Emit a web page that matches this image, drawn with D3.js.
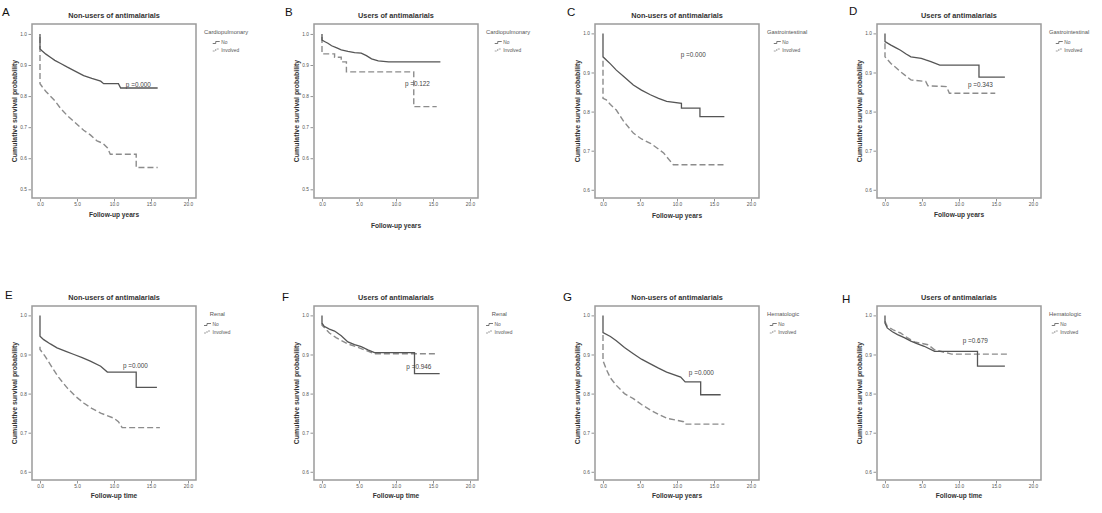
<!DOCTYPE html>
<html>
<head>
<meta charset="utf-8">
<script src="https://cdn.jsdelivr.net/npm/d3@7"></script>
<style>
  body { margin: 0; background: #fff; }
  svg text { font-family: "Liberation Sans", Arial, sans-serif; }
</style>
</head>
<body>
<div id="graph"></div>
<script>
// ---- data ----
var LETTERS = ["A", "B", "C", "D", "E", "F", "G", "H"];
var TITLES = ["Non-users of antimalarials", "Users of antimalarials",
              "Non-users of antimalarials", "Users of antimalarials",
              "Non-users of antimalarials", "Users of antimalarials",
              "Non-users of antimalarials", "Users of antimalarials"];
var GROUPS = ["Cardiopulmonary", "Cardiopulmonary", "Gastrointestinal", "Gastrointestinal",
              "Renal", "Renal", "Hematologic", "Hematologic"];
var X_TITLES = ["Follow-up years", "Follow-up years", "Follow-up years", "Follow-up years",
                "Follow-up time", "Follow-up time", "Follow-up years", "Follow-up time"];
var LEGEND_ITEMS = ["No", "Involved"];
var P_TEXTS = ["p =0.000", "p =0.122", "p =0.000", "p =0.343",
               "p =0.000", "p =0.946", "p =0.000", "p =0.679"];
// where the p label sits, in [years, survival]
var P_ANCHORS = [[11.6, 0.83], [11.2, 0.832], [10.5, 0.939], [11.2, 0.862],
                 [11.2, 0.865], [11.4, 0.862], [11.6, 0.848], [10.5, 0.929]];

var X_TICKS = [0, 5, 10, 15, 20];
var Y_TICKS_WIDE = [0.5, 0.6, 0.7, 0.8, 0.9, 1.0];   // panels A, B
var Y_TICKS_NARROW = [0.6, 0.7, 0.8, 0.9, 1.0];       // panels C-H

// Kaplan-Meier curves traced as [years, survival]; flat runs and drops are given explicitly
var NO_A = [[0,1],[0,0.952],[0.3,0.945],[0.8,0.935],[1.4,0.925],[2.0,0.915],[2.8,0.905],[3.7,0.893],
            [4.6,0.882],[5.9,0.866],[7.0,0.857],[8.2,0.848],[8.6,0.840],[10.6,0.840],[10.9,0.826],[15.9,0.826]];
var INV_A = [[0,0.99],[0,0.84],[0.3,0.83],[0.8,0.815],[1.4,0.80],[2.0,0.785],[2.8,0.76],[3.7,0.737],
             [4.6,0.718],[5.9,0.69],[6.8,0.675],[7.7,0.656],[8.5,0.648],[9.1,0.634],[9.5,0.613],
             [13.0,0.613],[13.0,0.57],[15.9,0.57]];
var NO_B = [[0,1],[0,0.98],[0.4,0.975],[0.8,0.97],[1.3,0.962],[2.0,0.955],[2.6,0.949],[3.5,0.944],
            [4.4,0.94],[5.3,0.938],[6.0,0.93],[6.7,0.92],[7.6,0.913],[9.0,0.91],[16.0,0.91]];
var INV_B = [[0,0.99],[0,0.936],[1.7,0.936],[1.7,0.925],[2.6,0.925],[2.6,0.91],[3.3,0.91],[3.3,0.878],
             [12.4,0.878],[12.4,0.766],[15.5,0.766]];
var NO_C = [[0,1],[0,0.94],[0.45,0.932],[1.0,0.922],[1.8,0.906],[2.8,0.89],[4.1,0.868],[5.2,0.855],
            [6.4,0.843],[7.5,0.834],[8.6,0.826],[10.6,0.821],[10.6,0.809],[13.1,0.809],[13.1,0.787],[16.4,0.787]];
var INV_C = [[0,0.93],[0,0.834],[0.45,0.83],[1.0,0.818],[1.8,0.804],[2.8,0.775],[4.1,0.745],[5.2,0.73],
             [6.4,0.719],[7.3,0.707],[8.2,0.694],[9.5,0.664],[16.4,0.664]];
var NO_D = [[0,1],[0,0.979],[0.8,0.97],[1.5,0.963],[2.1,0.957],[2.8,0.948],[3.5,0.94],[4.9,0.936],
            [5.5,0.932],[6.2,0.928],[7.4,0.919],[12.7,0.919],[12.7,0.888],[16.2,0.888]];
var INV_D = [[0,0.975],[0,0.94],[0.8,0.923],[1.5,0.912],[2.1,0.902],[3.5,0.881],[5.5,0.877],
             [5.8,0.866],[8.3,0.864],[8.7,0.847],[14.9,0.847]];
var NO_E = [[0,1],[0,0.947],[0.5,0.938],[1.4,0.927],[2.3,0.917],[3.5,0.908],[4.6,0.9],[5.7,0.892],
            [6.8,0.883],[8.2,0.87],[9.1,0.855],[13.0,0.855],[13.0,0.816],[15.8,0.816]];
var INV_E = [[0,0.92],[0,0.913],[0.7,0.895],[1.4,0.874],[2.5,0.842],[3.7,0.814],[4.8,0.793],
             [5.9,0.776],[7.0,0.762],[8.2,0.75],[10.0,0.737],[10.6,0.728],[11.1,0.713],[16.2,0.713]];
var NO_F = [[0,1],[0,0.98],[0.3,0.972],[1.0,0.965],[1.7,0.96],[2.6,0.948],[3.5,0.932],[4.4,0.925],
            [5.3,0.92],[6.2,0.912],[7.1,0.905],[12.5,0.905],[12.5,0.851],[15.9,0.851]];
var INV_F = [[0,0.98],[0,0.975],[1.0,0.955],[1.9,0.943],[2.7,0.935],[3.5,0.927],[4.6,0.92],
             [5.7,0.912],[7.1,0.902],[15.6,0.902]];
var NO_G = [[0,1],[0,0.956],[1.0,0.946],[1.8,0.935],[2.9,0.918],[4.1,0.902],[5.2,0.888],[6.4,0.876],
            [7.5,0.865],[8.6,0.855],[10.5,0.842],[11.1,0.83],[13.2,0.83],[13.2,0.797],[15.9,0.797]];
var INV_G = [[0,0.95],[0,0.884],[0.5,0.86],[1.0,0.84],[1.8,0.821],[2.9,0.8],[4.1,0.787],[5.2,0.772],
             [6.4,0.758],[7.5,0.747],[8.6,0.737],[10.9,0.728],[11.1,0.722],[16.4,0.722]];
var NO_H = [[0,1],[0,0.98],[0.3,0.968],[1.0,0.958],[1.7,0.951],[2.6,0.943],[3.5,0.934],[4.4,0.927],
            [5.3,0.921],[6.7,0.908],[12.5,0.908],[12.5,0.87],[16.2,0.87]];
var INV_H = [[0,0.985],[0.3,0.972],[1.2,0.962],[2.1,0.955],[3.0,0.943],[4.0,0.932],[5.8,0.925],
             [6.7,0.912],[9.0,0.901],[16.7,0.901]];

var NO_CURVES = [NO_A, NO_B, NO_C, NO_D, NO_E, NO_F, NO_G, NO_H];
var INV_CURVES = [INV_A, INV_B, INV_C, INV_D, INV_E, INV_F, INV_G, INV_H];

// ---- layout ----
var PLOT_W = 164;
var PLOT_H = 174;
var COL_X = [32, 314, 595, 877];
var ROW_Y = [24, 306];
var LETTER_POS = [[2,16],[285,16],[567,16],[849,15],[5,299],[282,301],[563,301],[842,303]];
var X_TITLE_DROP = [19, 30, 20, 19, 18, 18, 18, 18];

var svg = d3.select("#graph")
            .append("svg")
              .attr("width", 1102)
              .attr("height", 513);

for (let i = 0; i < 8; i++) {
  draw_panel(i);
}

function draw_panel(i) {
  let left = COL_X[i % 4];
  let top = ROW_Y[Math.floor(i / 4)];
  let wide = i < 2;
  let yticks = wide ? Y_TICKS_WIDE : Y_TICKS_NARROW;

  let xscale = d3.scaleLinear()
                 .domain([-1.08, 21.08])
                 .range([0, PLOT_W]);

  // A and B go down to 0.5, the rest stop at 0.6
  let yscale = d3.scaleLinear()
                 .domain(wide ? [0.472, 1.032] : [0.579, 1.024])
                 .range([PLOT_H, 0]);

  let g = svg.append("g")
             .attr("transform", "translate(" + left + "," + top + ")");

  // panel letter
  svg.append("text")
     .attr("x", LETTER_POS[i][0])
     .attr("y", LETTER_POS[i][1])
     .attr("font-size", 11.5)
     .attr("fill", "#111")
     .text(LETTERS[i]);

  // title
  g.append("text")
   .attr("x", PLOT_W / 2)
   .attr("y", -6)
   .attr("text-anchor", "middle")
   .attr("font-size", 7.3)
   .attr("font-weight", "bold")
   .attr("fill", "#333")
   .text(TITLES[i]);

  // axes
  let x_axis = d3.axisBottom(xscale)
                 .tickValues(X_TICKS)
                 .tickFormat(d3.format(".1f"))
                 .tickSize(2.5)
                 .tickPadding(1.5);

  let y_axis = d3.axisLeft(yscale)
                 .tickValues(yticks)
                 .tickFormat(d3.format(".1f"))
                 .tickSize(2.5)
                 .tickPadding(1.5);

  let xg = g.append("g")
            .attr("transform", "translate(0," + (PLOT_H + 1) + ")")
            .call(x_axis);
  let yg = g.append("g")
            .attr("transform", "translate(-1,0)")
            .call(y_axis);

  [xg, yg].forEach(function (ax) {
    ax.select(".domain").remove();
    ax.selectAll("line").attr("stroke", "#777").attr("stroke-width", 0.8);
    ax.selectAll("text")
      .attr("font-size", 4.8)
      .attr("fill", "#555")
      .style("font-family", "'Liberation Sans', Arial, sans-serif");
  });

  // axis titles
  g.append("text")
   .attr("x", PLOT_W / 2)
   .attr("y", PLOT_H + X_TITLE_DROP[i])
   .attr("text-anchor", "middle")
   .attr("font-size", 6.6)
   .attr("font-weight", "bold")
   .attr("fill", "#333")
   .text(X_TITLES[i]);

  g.append("text")
   .attr("transform", "translate(-15.5," + (PLOT_H / 2) + ") rotate(-90)")
   .attr("text-anchor", "middle")
   .attr("font-size", 6.9)
   .attr("font-weight", "bold")
   .attr("fill", "#333")
   .text("Cumulative survival probability");

  // survival curves
  let line = d3.line()
               .x(d => xscale(d[0]))
               .y(d => yscale(d[1]));

  g.append("path")
   .datum(INV_CURVES[i])
   .attr("d", line)
   .attr("fill", "none")
   .attr("stroke", "#8c8c8c")
   .attr("stroke-width", 1.4)
   .attr("stroke-dasharray", "6,3");

  g.append("path")
   .datum(NO_CURVES[i])
   .attr("d", line)
   .attr("fill", "none")
   .attr("stroke", "#555")
   .attr("stroke-width", 1.3);

  // p value
  g.append("text")
   .attr("x", xscale(P_ANCHORS[i][0]))
   .attr("y", yscale(P_ANCHORS[i][1]))
   .attr("font-size", 6.4)
   .attr("fill", "#444")
   .text(P_TEXTS[i]);

  // frame
  g.append("rect")
   .attr("x", 0)
   .attr("y", 0)
   .attr("width", PLOT_W)
   .attr("height", PLOT_H)
   .attr("fill", "none")
   .attr("stroke", "#9a9a9a")
   .attr("stroke-width", 1.5);

  draw_legend(g, i);
}

function draw_legend(g, i) {
  let lx = PLOT_W + 8;
  let lg = g.append("g").attr("transform", "translate(" + lx + ",0)");

  let title = lg.append("text")
                .attr("y", 10)
                .attr("font-size", 5.8)
                .attr("fill", "#555")
                .text(GROUPS[i]);

  let items = lg.append("g");
  LEGEND_ITEMS.forEach(function (name, k) {
    let y = 19 + k * 7.5;
    let dashed = k === 1;
    items.append("path")
         .attr("d", "M0," + (y + 0.5) + " L3," + (y + 0.5) + " L3," + (y - 1.5) + " L7," + (y - 1.5))
         .attr("fill", "none")
         .attr("stroke", dashed ? "#8c8c8c" : "#555")
         .attr("stroke-width", 0.8)
         .attr("stroke-dasharray", dashed ? "2,1" : null);
    items.append("text")
         .attr("x", 8.5)
         .attr("y", y + 1.2)
         .attr("font-size", 4.8)
         .attr("fill", "#555")
         .text(name);
  });

  // centre title and items over each other
  let tw = title.node().getComputedTextLength();
  let iw = items.node().getBBox().width;
  let w = Math.max(tw, iw);
  title.attr("x", (w - tw) / 2);
  items.attr("transform", "translate(" + ((w - iw) / 2) + ",0)");
}
</script>
</body>
</html>
